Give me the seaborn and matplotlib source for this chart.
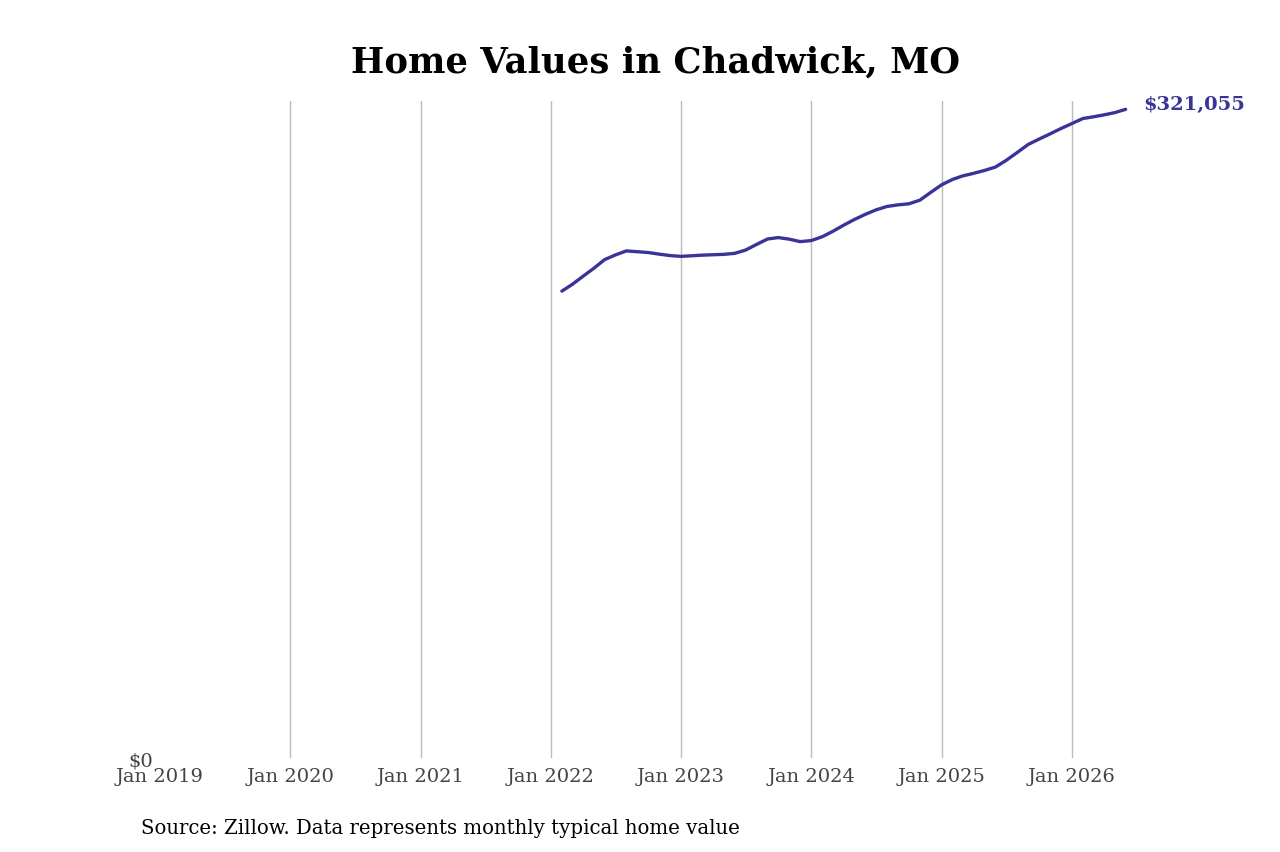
import pandas as pd
import numpy as np
import matplotlib
matplotlib.use("Agg")
import matplotlib.pyplot as plt
import matplotlib.dates as mdates
from matplotlib.ticker import FixedLocator, FuncFormatter
import seaborn as sns

# Monthly typical home value, Feb 2022 - Jun 2026
start_month = "2022-02-01"
values = [
    231100, 234300, 238400, 242300, 246700, 249000, 251000, 250600, 250200, 249400, 248700,
    248300, 248600, 248900, 249100, 249300, 249800, 251400, 254200, 256900, 257600, 256800, 255600,
    256100, 258000, 260600, 263700, 266500, 269100, 271300, 273000, 273800, 274300, 276100, 279900,
    283700, 286400, 288100, 289400, 290800, 292500, 295800, 299700, 303700, 306300, 308900, 311500,
    314000, 316500, 317300, 318300, 319400, 321055,
]
tick_years = list(range(2019, 2027))
title = "Home Values in Chadwick, MO"
source = "Source: Zillow. Data represents monthly typical home value"

df = pd.DataFrame({
    "date": pd.date_range(start_month, periods=len(values), freq="MS"),
    "value": values,
})

line_color = "#3a3398"

sns.set_style("white")
plt.rcParams["font.family"] = ["DejaVu Serif"]

fig, ax = plt.subplots(figsize=(12.8, 8.53), dpi=100)
sns.lineplot(data=df, x="date", y="value", ax=ax, color=line_color, linewidth=2.4)

ax.set_xlim(pd.Timestamp("2019-01-01"), pd.Timestamp("2026-08-14"))
ax.set_ylim(0, 325000)

ax.xaxis.set_major_locator(FixedLocator([mdates.date2num(pd.Timestamp(f"{y}-01-01")) for y in tick_years]))
ax.xaxis.set_major_formatter(FuncFormatter(lambda v, p: "Jan " + str(mdates.num2date(v).year)))
ax.yaxis.set_major_locator(FixedLocator([0]))
ax.yaxis.set_major_formatter(FuncFormatter(lambda v, p: f"${v:,.0f}"))

ax.grid(axis="x", color="#bbbbbb", linewidth=1)
ax.grid(axis="y", visible=False)
# no gridline on the left edge (Jan 2019)
ax.xaxis.get_gridlines()[0].set_visible(False)
for s in ax.spines.values():
    s.set_visible(False)
ax.tick_params(axis="both", length=0, labelsize=14, labelcolor="#444444")
ax.tick_params(axis="y", pad=5)
ax.tick_params(axis="x", pad=6)
ax.set_xlabel("")
ax.set_ylabel("")

last = df.iloc[-1]
ax.annotate(f"${last['value']:,.0f}", xy=(last["date"], last["value"]),
            xytext=(13, 4), textcoords="offset points", ha="left", va="center",
            fontsize=14, fontweight="bold", color=line_color, annotation_clip=False)

fig.text(0.512, 0.927, title, ha="center", va="center", fontsize=25.5,
         fontweight="bold", color="black")
fig.text(0.11, 0.029, source, ha="left", va="center", fontsize=14.2, color="black")

fig.savefig("out.png", dpi=100)
